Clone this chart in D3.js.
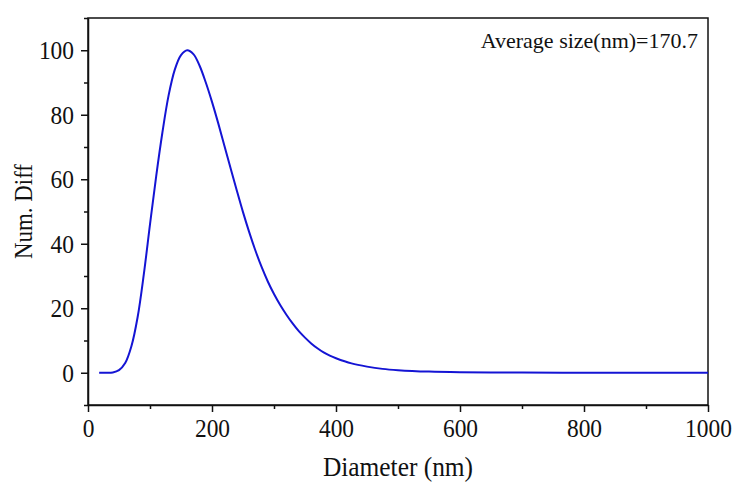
<!DOCTYPE html>
<html>
<head>
<meta charset="utf-8">
<script src="https://cdn.jsdelivr.net/npm/d3@7"></script>
<style>
  html, body { margin: 0; padding: 0; background: #ffffff; }
  svg { display: block; }
  text { font-family: "Liberation Serif", "Times New Roman", serif; fill: #111; }
</style>
</head>
<body>
<svg id="chart" width="740" height="484"></svg>
<script>
// ---- data ----
const diameters = [18, 30, 40, 50, 60, 70, 80, 90, 100, 110, 120, 130, 140, 150, 160, 170, 180, 190, 200,
  210, 220, 230, 240, 250, 260, 270, 280, 290, 300, 310, 320, 330, 340, 350, 360, 370, 380, 390, 400,
  425, 450, 475, 500, 550, 600, 650, 700, 800, 900, 1000];
const numDiff = [0, 0, 0.1, 0.8, 3.0, 8.2, 17.2, 30.5, 46, 61, 74.5, 86, 94, 98.5, 100, 98.8, 95.2, 90, 84,
  77.4, 70.4, 63.4, 56.5, 49.8, 43.6, 37.9, 32.8, 28.3, 24.4, 21, 18, 15.3, 12.9, 10.9, 9.1, 7.6, 6.3, 5.3, 4.5,
  2.9, 1.9, 1.2, 0.8, 0.35, 0.15, 0.08, 0.04, 0.01, 0, 0];
const xTicks = [0, 200, 400, 600, 800, 1000];
const xMinorTicks = [100, 300, 500, 700, 900];
const yTicks = [0, 20, 40, 60, 80, 100];
const yMinorTicks = [-10, 10, 30, 50, 70, 90, 110];
const xLabel = "Diameter (nm)";
const yLabel = "Num. Diff";
const annotation = "Average size(nm)=170.7";

// ---- layout ----
const margin = { left: 88, top: 18, right: 32, bottom: 79 };
const W = 740, H = 484;
const innerW = W - margin.left - margin.right;
const innerH = H - margin.top - margin.bottom;
const FONT = '"Liberation Serif", "Times New Roman", serif';

const svg = d3.select("#chart");
const g = svg.append("g").attr("transform", `translate(${margin.left},${margin.top})`);

const x = d3.scaleLinear().domain([0, 1000]).range([0, innerW]);
const y = d3.scaleLinear().domain([-10, 110]).range([innerH, 0]);

function squeeze(sel, f) {
  sel.each(function () {
    const w = this.getComputedTextLength();
    this.setAttribute("textLength", (w * f).toFixed(2));
    this.setAttribute("lengthAdjust", "spacingAndGlyphs");
  });
}

// frame (top & right)
g.append("rect")
  .attr("x", 0).attr("y", 0).attr("width", innerW).attr("height", innerH)
  .attr("fill", "none").attr("stroke", "#111").attr("stroke-width", 1.5);

// minor ticks
g.append("g").attr("transform", `translate(0,${innerH})`)
  .call(d3.axisBottom(x).tickValues(xMinorTicks).tickSize(4).tickSizeOuter(0).tickFormat(""))
  .call(s => s.select(".domain").remove())
  .call(s => s.selectAll("line").attr("stroke", "#111").attr("stroke-width", 1.5));
g.append("g")
  .call(d3.axisLeft(y).tickValues(yMinorTicks).tickSize(4).tickSizeOuter(0).tickFormat(""))
  .call(s => s.select(".domain").remove())
  .call(s => s.selectAll("line").attr("stroke", "#111").attr("stroke-width", 1.5));

// major axes
const xAxis = g.append("g").attr("transform", `translate(0,${innerH})`)
  .call(d3.axisBottom(x).tickValues(xTicks).tickSize(7).tickSizeOuter(0).tickPadding(7).tickFormat(d3.format("d")));
const yAxis = g.append("g")
  .call(d3.axisLeft(y).tickValues(yTicks).tickSize(7).tickSizeOuter(0).tickPadding(7).tickFormat(d3.format("d")));

[xAxis, yAxis].forEach(a => {
  a.attr("font-family", FONT).attr("font-size", 26);
  a.select(".domain").attr("stroke", "#111").attr("stroke-width", 1.5);
  a.selectAll(".tick line").attr("stroke", "#111").attr("stroke-width", 1.5);
  a.selectAll(".tick text")
    .style("font-family", FONT)
    .style("font-size", "26px").attr("fill", "#111");
  squeeze(a.selectAll(".tick text"), 0.9);
});

// curve
const line = d3.line()
  .x((d, i) => x(diameters[i]))
  .y(d => y(d))
  .curve(d3.curveCatmullRom.alpha(0.5));
g.append("path")
  .datum(numDiff)
  .attr("d", line)
  .attr("fill", "none")
  .attr("stroke", "#1414d4")
  .attr("stroke-width", 2);

// axis titles
const xt = svg.append("text")
  .attr("x", margin.left + innerW / 2).attr("y", 476)
  .attr("text-anchor", "middle")
  .style("font-size", "27px")
  .text(xLabel);
squeeze(xt, 0.94);

const yt = svg.append("text")
  .attr("transform", `translate(32,${margin.top + innerH / 2}) rotate(-90)`)
  .attr("text-anchor", "middle")
  .style("font-size", "26px")
  .text(yLabel);
squeeze(yt, 0.88);

// annotation
svg.append("text")
  .attr("x", margin.left + innerW - 10).attr("y", 48)
  .attr("text-anchor", "end")
  .style("font-size", "22px")
  .text(annotation);
</script>
</body>
</html>
